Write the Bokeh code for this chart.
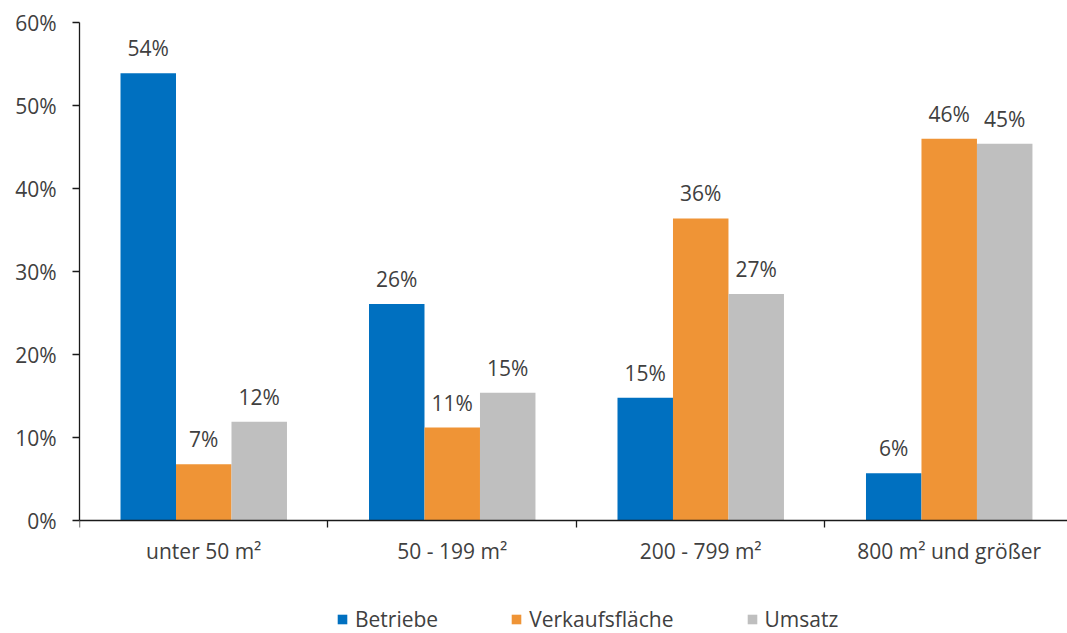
import numpy as np
from bokeh.plotting import figure
from bokeh.models import (ColumnDataSource, Range1d, FixedTicker, PrintfTickFormatter,
                          LabelSet, Legend, LegendItem)
from bokeh.core.properties import value
from bokeh.embed import file_html
from bokeh.resources import INLINE

# Shares by sales-area size class (percent)
categories = ["unter 50 m²", "50 - 199 m²", "200 - 799 m²", "800 m² und größer"]
series_names = ["Betriebe", "Verkaufsfläche", "Umsatz"]
betriebe = [53.9, 26.1, 14.8, 5.7]
verkaufsflaeche = [6.8, 11.2, 36.4, 46.0]
umsatz = [11.9, 15.4, 27.3, 45.4]
y_ticks = [0, 10, 20, 30, 40, 50, 60]

colors = ["#0070C0", "#EF9436", "#BFBFBF"]
FONT = "Open Sans"
TEXT = "#404040"
FS = "21px"
AXIS = "#1a1a1a"

# the frame runs to the bottom edge; the room under 0 % holds the
# category labels and the legend
p = figure(width=1067, height=633, output_backend="svg", toolbar_location=None,
           x_range=Range1d(0, 3.976), y_range=Range1d(-13.6, 60),
           min_border_left=79, min_border_right=0, min_border_top=22,
           min_border_bottom=0)
p.outline_line_color = None
p.xgrid.visible = False
p.ygrid.visible = False
p.background_fill_color = "white"
p.border_fill_color = "white"

centers = np.arange(len(categories)) + 0.5
bar_w = 0.2233
offsets = [-bar_w, 0.0, bar_w]
renderers = []
for name, vals, col, off in zip(series_names, [betriebe, verkaufsflaeche, umsatz], colors, offsets):
    src = ColumnDataSource(dict(
        x=centers + off,
        top=vals,
        label=[f"{round(v)}%" for v in vals],
    ))
    r = p.vbar(x="x", top="top", bottom=0, width=bar_w, source=src,
               fill_color=col, line_color=None)
    renderers.append(r)
    p.add_layout(LabelSet(x="x", y="top", text="label", source=src,
                          text_align="center", text_baseline="alphabetic", y_offset=17,
                          text_font=value(FONT), text_font_size=value(FS),
                          text_color=TEXT))

# y axis
yax = p.yaxis[0]
yax.ticker = FixedTicker(ticks=y_ticks)
yax.bounds = (0, 60)
yax.formatter = PrintfTickFormatter(format="%d%%")
yax.major_tick_in = 0
yax.major_tick_out = 7
yax.minor_tick_line_color = None
yax.major_label_standoff = 16
yax.major_label_text_font = FONT
yax.major_label_text_font_size = FS
yax.major_label_text_color = TEXT
yax.axis_line_color = AXIS
yax.axis_line_width = 1.3
yax.major_tick_line_color = AXIS
yax.major_tick_line_width = 1.3

# x axis at 0 %: category names centred, separator ticks at category boundaries
xax = p.xaxis[0]
xax.fixed_location = 0
xax.ticker = FixedTicker(ticks=list(centers), minor_ticks=list(range(len(categories) + 1)))
xax.major_label_overrides = {float(c): lab for c, lab in zip(centers, categories)}
xax.major_tick_line_color = None
xax.major_tick_in = 0
xax.major_tick_out = 0
xax.minor_tick_in = 0
xax.minor_tick_out = 7
xax.minor_tick_line_color = AXIS
xax.minor_tick_line_width = 1.3
xax.axis_line_color = AXIS
xax.axis_line_width = 1.3
xax.major_label_standoff = 9
xax.major_label_text_font = FONT
xax.major_label_text_font_size = FS
xax.major_label_text_color = TEXT

legend = Legend(items=[LegendItem(label=n, renderers=[r]) for n, r in zip(series_names, renderers)],
                orientation="horizontal", location=(257, 0),
                glyph_width=12, glyph_height=12, label_standoff=7, spacing=72,
                padding=0, margin=0, border_line_color=None, background_fill_alpha=0,
                label_text_font=FONT, label_text_font_size=FS, label_text_color=TEXT,
                label_height=20)
p.add_layout(legend, "center")

open("out.html", "w").write(file_html(p, INLINE))
